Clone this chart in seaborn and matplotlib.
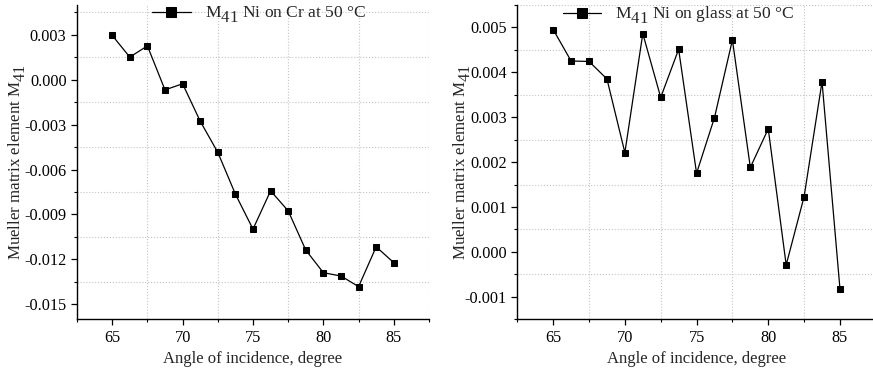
import numpy as np
import pandas as pd
import matplotlib
matplotlib.use("Agg")
import matplotlib.pyplot as plt
from matplotlib.ticker import MultipleLocator, FormatStrFormatter
import seaborn as sns

try:
    import matplotlib._mathtext as _mt
    _mt.SHRINK_FACTOR = 0.95  # Origin-style near full-size subscripts
    _mt.FontConstantsBase.sub1 = 0.7
    _mt.FontConstantsBase.sub2 = 0.8
except Exception:
    pass

# ---- data ----
angles = [65, 66.25, 67.5, 68.75, 70, 71.25, 72.5, 73.75, 75, 76.25,
          77.5, 78.75, 80, 81.25, 82.5, 83.75, 85]
m41_cr = [0.00296, 0.00151, 0.00226, -0.00068, -0.00027, -0.00277, -0.00485,
          -0.00764, -0.00998, -0.00742, -0.00876, -0.01138, -0.01289,
          -0.01311, -0.01382, -0.01116, -0.01222]
m41_glass = [0.00495, 0.00425, 0.00424, 0.00385, 0.00221, 0.00486, 0.00344,
             0.00451, 0.00175, 0.00299, 0.00472, 0.00188, 0.00274,
             -0.00029, 0.00123, 0.00379, -0.00082]
label_cr = "M$_{41}$ Ni on Cr at 50 \u00b0C"
label_glass = "M$_{41}$ Ni on glass at 50 \u00b0C"
xlabel = "Angle of incidence, degree"
ylabel = "Mueller matrix element M$_{41}$"

sns.set_style("ticks")
plt.rcParams["font.family"] = ["Liberation Serif", "DejaVu Serif"]
plt.rcParams["mathtext.fontset"] = "custom"
plt.rcParams["mathtext.rm"] = "Liberation Serif"
plt.rcParams["mathtext.it"] = "Liberation Serif:italic"
plt.rcParams["mathtext.bf"] = "Liberation Serif:bold"
plt.rcParams["font.size"] = 12

fig = plt.figure(figsize=(8.73, 3.73), dpi=100)
ax1 = fig.add_axes([0.0882, 0.144, 0.4032, 0.843])
ax2 = fig.add_axes([0.5926, 0.144, 0.4106, 0.843])

df1 = pd.DataFrame({"angle": angles, "m41": m41_cr})
df2 = pd.DataFrame({"angle": angles, "m41": m41_glass})

specs = [
    (ax1, df1, label_cr, (-0.016, 0.005), 0.003, "%.3f", 0.517),
    (ax2, df2, label_glass, (-0.0015, 0.0055), 0.001, "%.3f", 0.45),
]

for ax, df, lab, ylim, ystep, fmt, legx in specs:
    sns.lineplot(data=df, x="angle", y="m41", ax=ax, color="black",
                 marker="s", markersize=4.5, markeredgecolor="black",
                 linewidth=0.9, label=lab)
    ax.set_xlim(62.5, 87.5)
    ax.set_ylim(*ylim)
    ax.xaxis.set_major_locator(MultipleLocator(5))
    ax.xaxis.set_minor_locator(MultipleLocator(2.5))
    ax.yaxis.set_major_locator(MultipleLocator(ystep))
    ax.yaxis.set_minor_locator(MultipleLocator(ystep / 2))
    ax.yaxis.set_major_formatter(FormatStrFormatter(fmt))
    ax.grid(False)
    ax.grid(which="minor", color="#c4c4c4", linestyle=":", linewidth=0.8)
    ax.set_axisbelow(True)
    for s in ("top", "right"):
        ax.spines[s].set_visible(False)
    for s in ("left", "bottom"):
        ax.spines[s].set_linewidth(1.0)
        ax.spines[s].set_color("black")
    ax.tick_params(which="major", direction="out", length=4, width=0.9,
                   labelsize=11.7, colors="black")
    ax.tick_params(which="minor", direction="out", length=2.5, width=0.8,
                   colors="black")
    ax.set_xlabel(xlabel, fontsize=12)
    ax.set_ylabel(ylabel, fontsize=12.2)
    ax.legend(loc="upper center", bbox_to_anchor=(legx, 1.05),
              frameon=False, fontsize=12.6, markerscale=1.5,
              handlelength=2.2, handletextpad=0.8)

ax1.yaxis.set_label_coords(-0.14, 0.5)
ax2.yaxis.set_label_coords(-0.124, 0.5)

fig.savefig("out.png", dpi=100)
